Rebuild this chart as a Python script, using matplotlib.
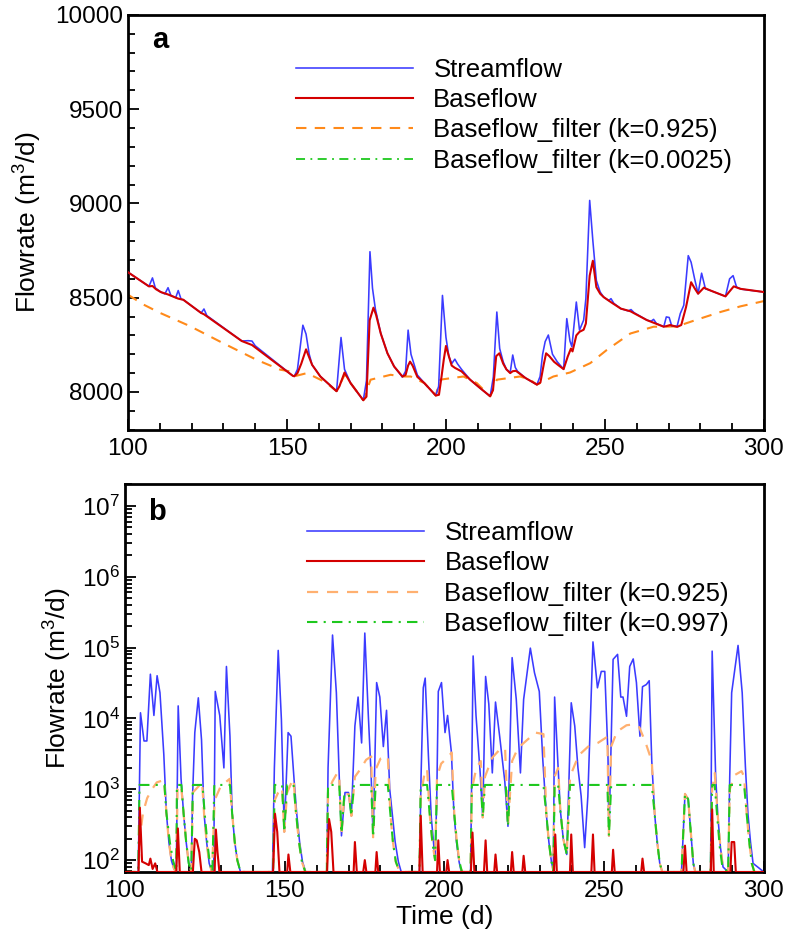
import matplotlib
matplotlib.use('Agg')
import matplotlib.pyplot as plt
from matplotlib.lines import Line2D

plt.rcParams['font.family'] = ['Liberation Sans', 'DejaVu Sans']
plt.rcParams['mathtext.fontset'] = 'custom'
plt.rcParams['mathtext.rm'] = 'Liberation Sans'

# ---------------- panel a data ----------------
t_stream_a = [100, 106.6, 107.7, 108.6, 110.3, 111.6, 112.6, 113.5, 115.0, 115.8, 116.7, 117.4,
              123.0, 123.9, 124.8, 135.8, 137.8, 139.0, 140.0, 151.8, 152.3, 153.3, 155.0, 156.0,
              157.0, 157.9, 160.5, 165.6, 167.0, 168.1, 170.0, 174.0, 175.0, 176.1, 176.9, 177.8,
              179.5, 181.6, 183.7, 186.3, 187.3, 188.1, 189.0, 191.0, 193.2, 196.8, 197.7, 198.9,
              200.0, 200.9, 201.8, 202.8, 203.6, 204.9, 207.6, 210.7, 213.9, 214.9, 216.0, 216.9,
              218.0, 219.0, 220.2, 221.0, 221.8, 222.5, 225.0, 228.6, 229.6, 230.4, 231.2, 232.2,
              233.5, 235.0, 237.0, 238.0, 239.0, 239.6, 241.0, 242.0, 243.3, 244.0, 245.2, 246.2,
              247.3, 248.5, 249.6, 251.2, 251.9, 252.8, 255.0, 257.3, 258.2, 259.2, 263.2, 264.5,
              265.3, 266.2, 268.5, 269.3, 270.2, 271.0, 272.7, 273.7, 274.8, 276.2, 277.1, 278.2,
              279.3, 280.4, 281.6, 283.2, 287.9, 289.2, 290.3, 291.4, 293.0, 300]
q_stream_a = [8635, 8560, 8605, 8552, 8530, 8520, 8553, 8512, 8500, 8538, 8492, 8489,
              8419, 8440, 8405, 8270, 8272, 8270, 8245, 8086, 8083, 8120, 8354, 8307,
              8200, 8144, 8082, 8004, 8289, 8120, 8047, 7956, 8060, 8744, 8550, 8440,
              8310, 8205, 8135, 8079, 8110, 8328, 8200, 8090, 8047, 7981, 8030, 8512,
              8290, 8190, 8150, 8174, 8150, 8120, 8065, 8021, 7977, 8080, 8424, 8230,
              8160, 8120, 8103, 8196, 8130, 8110, 8074, 8039, 8082, 8200, 8267, 8302,
              8200, 8160, 8121, 8389, 8270, 8240, 8477, 8328, 8381, 8495, 9016, 8802,
              8591, 8530, 8503, 8485, 8495, 8470, 8442, 8430, 8437, 8420, 8381, 8375,
              8385, 8363, 8346, 8398, 8395, 8350, 8349, 8416, 8460, 8723, 8688, 8600,
              8521, 8630, 8547, 8538, 8507, 8600, 8617, 8556, 8545, 8530]

t_base_a = [100, 106.6, 107.7, 108.8, 110.3, 112.6, 115.8, 117.4, 123.0, 123.9, 135.8, 139.0,
            151.8, 152.3, 153.3, 154.5, 156.0, 157.9, 160.5, 165.6, 166.5, 168.1, 170.0, 174.0,
            175.0, 176.0, 177.2, 178.0, 179.5, 181.6, 183.7, 186.3, 187.3, 188.1, 188.7, 189.5,
            191.0, 193.2, 196.8, 197.8, 198.6, 199.3, 200.0, 200.9, 201.8, 202.8, 204.9, 207.6,
            210.7, 213.9, 214.8, 215.8, 216.8, 218.0, 219.0, 220.2, 221.0, 222.0, 225.0, 228.6,
            229.7, 230.8, 231.5, 232.5, 234.0, 235.5, 237.0, 238.3, 239.3, 239.8, 241.0, 242.0,
            243.3, 244.0, 245.2, 246.2, 247.3, 248.5, 249.6, 252.0, 255.0, 258.0, 263.2, 268.5,
            269.5, 270.5, 272.7, 274.0, 275.5, 277.1, 278.2, 279.3, 281.1, 283.2, 287.9, 290.5,
            292.6, 300]
q_base_a = [8635, 8560, 8562, 8545, 8530, 8517, 8495, 8489, 8419, 8412, 8270, 8249,
            8086, 8083, 8100, 8150, 8226, 8144, 8082, 8004, 8030, 8103, 8047, 7956,
            7975, 8380, 8447, 8410, 8310, 8205, 8135, 8082, 8090, 8140, 8161, 8140,
            8080, 8047, 7981, 7985, 8080, 8170, 8244, 8190, 8140, 8128, 8109, 8065,
            8021, 7977, 8010, 8190, 8205, 8150, 8120, 8100, 8110, 8112, 8074, 8039,
            8050, 8150, 8205, 8190, 8160, 8140, 8121, 8188, 8230, 8215, 8300, 8319,
            8330, 8363, 8617, 8696, 8556, 8521, 8503, 8475, 8442, 8428, 8381, 8346,
            8350, 8355, 8345, 8355, 8450, 8582, 8550, 8521, 8553, 8538, 8507, 8560,
            8547, 8530]

t_filt1_a = [100, 104.7, 110.0, 119.5, 130.0, 140.5, 147.9, 151.0, 152.3, 156.3, 161.6, 163.7,
             165.6, 168.1, 170.0, 174.0, 176.3, 182.6, 186.3, 188.9, 193.2, 196.8, 198.1, 205.5,
             209.7, 213.9, 216.0, 223.3, 226.4, 228.6, 233.8, 239.0, 245.4, 250.6, 258.0, 265.3,
             268.5, 272.7, 279.0, 286.3, 292.6, 300]
q_filt1_a = [8516, 8465, 8420, 8349, 8258, 8170, 8118, 8109, 8083, 8100, 8056, 8030,
             8004, 8090, 8047, 7956, 8065, 8091, 8082, 8082, 8047, 7981, 8065, 8082,
             8047, 7977, 8065, 8082, 8065, 8039, 8082, 8103, 8153, 8223, 8310, 8346,
             8346, 8348, 8384, 8424, 8454, 8482]

# ---------------- panel b data ----------------
t_stream_b = [100, 104.2, 104.9, 106.0, 106.9, 108.0, 109.1, 110.1, 111.0, 112.2, 113.0, 113.8,
              114.6, 115.4, 116.1, 116.7, 117.6, 118.4, 119.2, 120.0, 120.8, 121.2, 121.9, 123.0,
              124.0, 124.8, 125.6, 126.4, 127.3, 127.8, 128.3, 129.7, 131.0, 131.8, 132.9, 133.6,
              134.4, 135.2, 136.2, 146.2, 146.8, 148.0, 149.0, 149.9, 151.1, 152.0, 153.0, 153.8,
              154.7, 155.6, 156.6, 163.2, 163.6, 165.0, 166.2, 167.1, 167.8, 168.9, 170.0, 170.9,
              172.0, 173.0, 174.1, 175.1, 176.2, 177.1, 177.7, 178.8, 179.8, 180.9, 181.9, 182.9,
              183.7, 184.6, 185.6, 186.5, 192.2, 192.7, 193.4, 194.0, 195.0, 195.9, 197.1, 197.6,
              198.1, 199.1, 200.2, 201.0, 202.2, 203.0, 203.8, 204.6, 205.3, 208.2, 208.6, 209.0,
              209.9, 211.2, 212.0, 212.9, 213.9, 215.0, 216.0, 217.3, 218.9, 219.9, 221.2, 222.5,
              223.8, 224.8, 226.9, 228.2, 229.7, 230.8, 231.9, 232.7, 233.5, 234.1, 234.5, 235.6,
              236.3, 237.2, 238.3, 239.0, 239.7, 240.8, 241.8, 242.8, 243.9, 244.9, 246.5, 247.9,
              249.1, 250.2, 251.2, 251.5, 252.8, 254.2, 255.2, 255.9, 257.0, 258.0, 259.1, 260.1,
              261.2, 262.0, 263.2, 264.1, 264.9, 265.8, 266.6, 267.4, 268.2, 274.2, 275.3, 276.3,
              277.1, 277.9, 278.5, 283.3, 283.8, 284.9, 285.6, 286.4, 287.2, 288.8, 289.3, 289.9,
              291.9, 293.2, 294.2, 295.0, 295.8, 296.6, 300]
q_stream_b = [68, 68, 12000, 4800, 4800, 42000, 11000, 40000, 23000, 3100, 470, 177,
              98, 75, 68, 15000, 1400, 450, 180, 90, 70, 800, 6300, 19500,
              5000, 450, 180, 90, 68, 68, 24000, 11000, 2000, 54000, 5600, 450,
              180, 100, 68, 68, 2000, 91000, 9600, 250, 6300, 5600, 1300, 450,
              180, 95, 68, 68, 2000, 150000, 23000, 1500, 220, 900, 900, 420,
              7800, 20000, 4500, 160000, 11000, 1500, 210, 32000, 20000, 4000, 13000, 1000,
              450, 180, 95, 68, 68, 1500, 27000, 37000, 3000, 400, 100, 700,
              24000, 32000, 6300, 11000, 3300, 450, 180, 95, 68, 68, 2000, 76000,
              11000, 1700, 400, 39000, 16000, 1700, 17000, 5600, 1300, 300, 72000, 18500,
              1700, 18500, 98000, 44000, 24000, 2600, 450, 180, 95, 70, 20000, 2000,
              500, 200, 120, 1500, 16600, 7800, 2000, 800, 150, 800, 120000, 27000,
              46000, 46000, 3000, 220, 68000, 80000, 20000, 20000, 10700, 54000, 69000, 32000,
              5600, 28000, 30000, 34000, 2500, 450, 180, 90, 68, 68, 860, 720,
              250, 90, 68, 68, 89000, 1500, 400, 150, 80, 68, 1500, 23000,
              107000, 23000, 2100, 450, 180, 90, 68]

t_base_b = [100, 104.3, 104.7, 105.4, 106.5, 107.5, 108.0, 108.7, 109.5, 110.2, 116.1, 116.6,
            117.2, 121.3, 121.9, 122.5, 123.3, 124.0, 128.1, 128.5, 129.0, 129.6, 146.4, 147.0,
            147.7, 148.4, 150.8, 151.2, 151.8, 163.3, 163.9, 164.6, 165.3, 171.6, 172.0, 172.6,
            174.6, 175.1, 175.6, 178.4, 178.8, 179.3, 192.2, 192.6, 193.2, 197.7, 198.1, 198.6,
            200.6, 201.0, 201.5, 208.3, 208.8, 209.4, 212.4, 212.9, 213.4, 215.6, 216.0, 216.5,
            220.8, 221.2, 221.7, 224.4, 224.8, 225.3, 234.3, 234.7, 235.2, 239.3, 239.7, 240.2,
            246.0, 246.5, 247.0, 252.4, 252.8, 253.3, 261.6, 262.0, 262.5, 274.8, 275.3, 275.8,
            283.4, 283.8, 284.3, 289.5, 289.9, 290.7, 291.2, 300]
q_base_b = [68, 68, 550, 95, 90, 85, 105, 75, 90, 68, 68, 280,
            68, 68, 200, 190, 130, 68, 68, 270, 130, 68, 68, 450,
            250, 68, 68, 120, 68, 68, 380, 250, 68, 68, 180, 68,
            68, 100, 68, 68, 130, 68, 68, 420, 68, 68, 190, 68,
            68, 100, 68, 68, 245, 68, 68, 190, 68, 68, 120, 68,
            68, 130, 68, 68, 115, 68, 68, 230, 68, 68, 230, 68,
            68, 230, 68, 68, 140, 68, 68, 105, 68, 68, 160, 68,
            68, 520, 68, 68, 180, 180, 68, 68]

t_filt1_b = [100, 104.2, 104.9, 105.7, 107.0, 108.5, 110.0, 112.3, 113.0, 113.8, 114.6, 115.4,
             116.1, 116.5, 117.6, 118.4, 119.2, 120.0, 120.8, 121.3, 124.2, 124.8, 125.6, 126.4,
             127.3, 128.1, 130.0, 132.8, 133.6, 134.4, 135.2, 136.2, 146.4, 146.9, 148.0, 149.2,
             149.9, 150.8, 152.0, 152.8, 153.6, 154.5, 155.4, 156.5, 163.2, 163.6, 165.0, 166.5,
             167.1, 167.8, 168.7, 170.1, 170.9, 172.0, 174.0, 175.5, 177.1, 177.7, 178.5, 180.0,
             182.3, 183.1, 183.9, 184.8, 186.0, 192.2, 192.6, 194.0, 194.6, 195.5, 196.3, 197.1,
             197.7, 199.0, 201.0, 202.3, 203.1, 203.9, 204.7, 205.5, 208.2, 208.6, 210.0, 211.4,
             212.0, 212.7, 215.0, 217.0, 219.0, 219.9, 221.2, 223.0, 226.0, 228.5, 231.0, 231.9,
             232.7, 233.5, 234.1, 234.5, 235.6, 236.3, 237.2, 238.3, 239.3, 242.0, 245.0, 248.0,
             251.0, 251.5, 252.2, 254.0, 257.0, 259.0, 261.0, 263.0, 264.9, 265.8, 266.6, 267.4,
             268.2, 274.2, 275.3, 276.3, 277.1, 277.9, 278.5, 283.3, 283.8, 284.6, 285.6, 286.4,
             287.2, 288.8, 289.3, 291.0, 293.0, 293.8, 294.6, 295.4, 296.2, 297.0, 300]
q_filt1_b = [68, 68, 250, 470, 750, 1000, 1250, 1350, 470, 177, 98, 75,
             68, 1000, 1150, 450, 180, 90, 70, 900, 1250, 450, 180, 90,
             68, 700, 1100, 1400, 450, 180, 100, 68, 68, 700, 900, 1050,
             250, 900, 1200, 1400, 450, 180, 95, 68, 68, 900, 1300, 1700,
             1500, 220, 850, 850, 420, 1500, 2000, 2600, 2900, 210, 1900, 2700,
             2900, 450, 180, 95, 68, 68, 800, 1900, 1900, 400, 170, 100,
             1500, 2300, 2800, 3300, 450, 180, 95, 68, 68, 1000, 2000, 2500,
             400, 1500, 2800, 3500, 3800, 300, 2500, 3800, 5000, 6300, 6000, 450,
             180, 95, 70, 1500, 2000, 500, 200, 120, 1500, 3000, 4000, 4500,
             5500, 220, 4000, 6500, 8000, 8200, 7500, 4500, 2500, 450, 180, 90,
             68, 68, 860, 720, 250, 90, 68, 68, 1000, 1700, 400, 150,
             80, 68, 1000, 1600, 1800, 1500, 450, 180, 90, 68, 68]

t_filt2_b = [100, 104.2, 104.6, 112.4, 113.0, 114.1, 115.1, 116.1, 116.3, 117.7, 118.4, 119.2,
             120.0, 120.8, 121.3, 124.3, 125.0, 125.8, 126.6, 127.4, 128.0, 132.9, 133.6, 134.4,
             135.2, 136.2, 146.4, 146.9, 149.2, 149.9, 150.8, 152.8, 153.6, 154.5, 155.4, 156.5,
             163.2, 163.6, 167.1, 167.8, 168.7, 170.1, 170.9, 171.7, 177.1, 177.7, 178.5, 182.3,
             183.1, 183.9, 184.8, 186.0, 192.2, 192.6, 194.6, 195.5, 196.3, 197.1, 197.7, 202.3,
             203.1, 203.9, 204.7, 205.5, 208.2, 208.6, 211.4, 212.0, 212.7, 219.2, 219.9, 220.6,
             231.0, 231.9, 232.7, 233.5, 234.1, 234.5, 235.6, 236.3, 237.2, 238.3, 239.3, 251.0,
             251.5, 252.2, 264.9, 265.8, 266.6, 267.4, 268.2, 274.2, 275.3, 276.3, 277.1, 277.9,
             278.5, 283.3, 283.8, 284.6, 285.4, 286.2, 287.0, 288.8, 289.3, 293.8, 294.6, 295.4,
             296.2, 297.0, 300]
q_filt2_b = [68, 68, 1150, 1150, 470, 177, 98, 70, 1150, 1150, 450, 180,
             90, 70, 1150, 1150, 450, 180, 90, 68, 1150, 1150, 450, 180,
             100, 68, 68, 1150, 1150, 250, 1150, 1150, 450, 180, 95, 68,
             68, 1150, 1150, 240, 850, 850, 420, 1150, 1150, 210, 1150, 1150,
             450, 180, 95, 68, 68, 1150, 1150, 400, 170, 100, 1150, 1150,
             450, 180, 95, 68, 68, 1150, 1150, 400, 1150, 1150, 300, 1150,
             1150, 450, 180, 95, 70, 1150, 1150, 500, 200, 120, 1150, 1150,
             220, 1150, 1150, 450, 180, 90, 68, 68, 860, 720, 250, 90,
             68, 68, 1150, 1150, 400, 150, 80, 68, 1150, 1150, 450, 180,
             90, 68, 68]

c_stream = '#3b3bff'
c_base = '#d40000'
c_filt1_a = '#ff8a1a'
c_filt1_b = '#ffb070'
c_filt2 = '#1ec81e'

fig = plt.figure(figsize=(7.9, 9.32), dpi=100)
ax1 = fig.add_axes([0.162, 0.539, 0.805, 0.445])
ax2 = fig.add_axes([0.158, 0.0644, 0.809, 0.4163])

ax1.plot(t_filt1_a, q_filt1_a, color=c_filt1_a, lw=1.5, ls=(0, (5, 4)), zorder=2)
ax1.plot(t_stream_a, q_stream_a, color=c_stream, lw=1.15, zorder=3)
ax1.plot(t_base_a, q_base_a, color=c_base, lw=1.5, zorder=4)
ax1.set_xlim(100, 300)
ax1.set_ylim(7800, 10000)
ax1.set_yticks([8000, 8500, 9000, 9500, 10000])
ax1.set_yticks(range(7800, 10001, 100), minor=True)
ax1.set_ylabel('Flowrate (m$^3$/d)', fontsize=19, labelpad=9)
ax1.text(0.05, 0.94, 'a', transform=ax1.transAxes, fontsize=21, fontweight='bold', va='center', ha='center')
h_a = [Line2D([], [], color=c_stream, lw=1.15),
       Line2D([], [], color=c_base, lw=1.5),
       Line2D([], [], color=c_filt1_a, lw=1.5, ls=(0, (5, 4))),
       Line2D([], [], color=c_filt2, lw=1.3, ls=(0, (5, 3, 1, 3)))]
ax1.legend(h_a, ['Streamflow', 'Baseflow', 'Baseflow_filter (k=0.925)', 'Baseflow_filter (k=0.0025)'],
           loc='upper left', bbox_to_anchor=(0.264, 0.897), frameon=False, fontsize=18.5,
           handlelength=4.55, handletextpad=0.8, labelspacing=0.25, borderpad=0, borderaxespad=0)

ax2.plot(t_filt1_b, q_filt1_b, color=c_filt1_b, lw=1.6, ls=(0, (5, 4)), zorder=2)
ax2.plot(t_stream_b, q_stream_b, color=c_stream, lw=1.15, zorder=1)
ax2.plot(t_filt2_b, q_filt2_b, color=c_filt2, lw=1.5, ls=(0, (5, 3, 1, 3)), zorder=3)
ax2.plot(t_base_b, q_base_b, color=c_base, lw=1.5, zorder=4)
ax2.set_yscale('log')
ax2.set_xlim(100, 300)
ax2.set_ylim(68, 2.03e7)
ax2.set_xlabel('Time (d)', fontsize=19, labelpad=2)
ax2.set_ylabel('Flowrate (m$^3$/d)', fontsize=19, labelpad=6)
ax2.text(0.05, 0.928, 'b', transform=ax2.transAxes, fontsize=21, fontweight='bold', va='center', ha='center')
h_b = [Line2D([], [], color=c_stream, lw=1.15),
       Line2D([], [], color=c_base, lw=1.5),
       Line2D([], [], color=c_filt1_b, lw=1.6, ls=(0, (5, 4))),
       Line2D([], [], color=c_filt2, lw=1.5, ls=(0, (5, 3, 1, 3)))]
ax2.legend(h_b, ['Streamflow', 'Baseflow', 'Baseflow_filter (k=0.925)', 'Baseflow_filter (k=0.997)'],
           loc='upper left', bbox_to_anchor=(0.285, 0.905), frameon=False, fontsize=18.5,
           handlelength=4.55, handletextpad=0.8, labelspacing=0.25, borderpad=0, borderaxespad=0)

for ax in (ax1, ax2):
    ax.set_xticks([100, 150, 200, 250, 300])
    ax.set_xticks(range(100, 301, 10), minor=True)
    ax.tick_params(which='both', direction='in', top=False, right=False, labelsize=17.5, width=1.3)
    ax.tick_params(which='major', length=8)
    ax.tick_params(which='minor', length=5)
    ax.tick_params(axis='x', pad=6)
    for s in ax.spines.values():
        s.set_linewidth(2)

fig.savefig('out.png', dpi=100)
